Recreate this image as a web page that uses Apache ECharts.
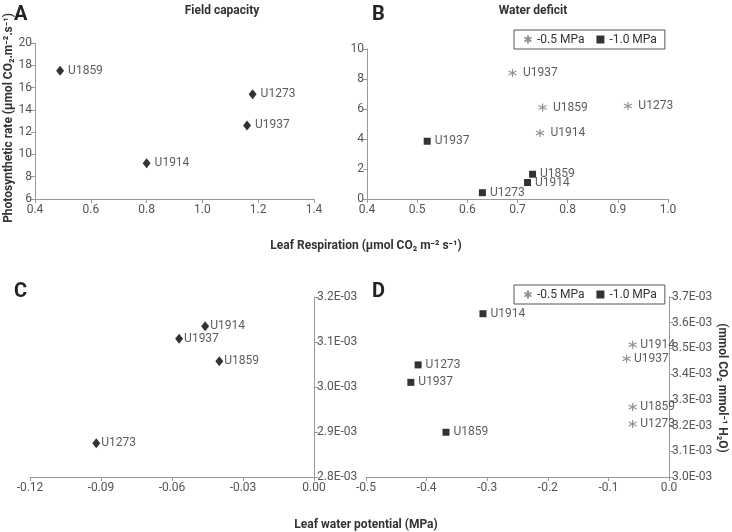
<!DOCTYPE html>
<html><head><meta charset="utf-8">
<script src="https://cdn.jsdelivr.net/npm/echarts@6/dist/echarts.min.js"></script>
<style>html,body{margin:0;padding:0;background:#fff}#c{width:732px;height:532px}</style>
</head><body><div id="c"></div>
<script>
// Panel A: Field capacity
const aNames = ['U1859','U1914','U1937','U1273'];
const aResp = [0.49, 0.80, 1.16, 1.18];
const aPhoto = [17.5, 9.2, 12.6, 15.4];
// Panel B: Water deficit
const bNames05 = ['U1937','U1859','U1273','U1914'];
const bResp05 = [0.69, 0.75, 0.92, 0.745];
const bPhoto05 = [8.4, 6.1, 6.2, 4.4];
const bNames10 = ['U1937','U1859','U1914','U1273'];
const bResp10 = [0.52, 0.73, 0.72, 0.63];
const bPhoto10 = [3.85, 1.65, 1.1, 0.42];
// Panel C: field capacity WUE vs leaf water potential
const cNames = ['U1914','U1937','U1859','U1273'];
const cPot = [-0.046, -0.057, -0.040, -0.092];
const cWue = [3.135e-3, 3.107e-3, 3.057e-3, 2.875e-3];
// Panel D
const dNames10 = ['U1914','U1273','U1937','U1859'];
const dPot10 = [-0.307, -0.414, -0.426, -0.368];
const dWue10 = [3.635e-3, 3.436e-3, 3.368e-3, 3.174e-3];
const dNames05 = ['U1914','U1937','U1859','U1273'];
const dPot05 = [-0.06, -0.07, -0.06, -0.06];
const dWue05 = [3.514e-3, 3.46e-3, 3.272e-3, 3.206e-3];

const FONT = '"Liberation Sans Narrow", "Roboto", "Liberation Sans", sans-serif';
const AST = 'path://M0,-5L0,5M-4.33,-2.5L4.33,2.5M-4.33,2.5L4.33,-2.5';

function pts(names, xs, ys){ return names.map((n,i)=>({name:n, value:[xs[i], ys[i]]})); }
function lbl(){ return {show:true, position:'right', distance:4, formatter:'{b}', color:'#333', fontSize:12, fontFamily:FONT}; }
function xAx(idx, min, max, interval, dec){
  return {type:'value', gridIndex:idx, min, max, interval, splitLine:{show:false},
    axisLine:{lineStyle:{color:'#999'}}, axisTick:{length:4, lineStyle:{color:'#999'}},
    axisLabel:{color:'#555', fontSize:12, fontFamily:FONT, margin:5, formatter:v=>v.toFixed(dec)}};
}
function yAx(idx, min, max, interval, fmt, pos){
  return {type:'value', gridIndex:idx, min, max, interval, position:pos||'left', splitLine:{show:false},
    axisLine:{show:true, lineStyle:{color:'#999'}}, axisTick:{show:true, length:4, lineStyle:{color:'#999'}},
    axisLabel:{color:'#555', fontSize:12, fontFamily:FONT, margin:3, formatter:fmt}};
}
const eFmt = v => (v*1000).toFixed(1) + 'E-03';

const chart = echarts.init(document.getElementById('c'));
const legendCommon = {
  orient:'horizontal', borderColor:'#555', borderWidth:1, padding:[3,8,3,8], itemGap:12,
  itemWidth:8, itemHeight:8, textStyle:{color:'#333', fontSize:12, fontFamily:FONT},
  data:['-0.5 MPa','-1.0 MPa']
};
chart.setOption({
  animation:false,
  grid:[
    {left:35, top:43, width:279, height:156},
    {left:367, top:49, width:301, height:150},
    {left:30, top:297, width:284, height:180},
    {left:366, top:297, width:303, height:180}
  ],
  xAxis:[ xAx(0,0.4,1.4,0.2,1), xAx(1,0.4,1.0,0.1,1), xAx(2,-0.12,0,0.03,2), xAx(3,-0.5,0,0.1,1) ],
  yAxis:[
    yAx(0,6,20,2,v=>String(v)),
    yAx(1,0,10,2,v=>String(v)),
    yAx(2,0.0028,0.0032,0.0001,eFmt,'right'),
    yAx(3,0.0030,0.0037,0.0001,eFmt,'right')
  ],
  legend:[
    Object.assign({left:514, top:30, itemGap:14}, legendCommon),
    Object.assign({left:514, top:285, itemGap:14}, legendCommon)
  ],
  series:[
    {type:'scatter', xAxisIndex:0, yAxisIndex:0, symbol:'diamond', symbolSize:[8,10],
      itemStyle:{color:'#000'}, label:lbl(), data:pts(aNames,aResp,aPhoto)},
    {type:'scatter', name:'-0.5 MPa', xAxisIndex:1, yAxisIndex:1, symbol:AST, symbolSize:8,
      itemStyle:{color:'none', borderColor:'#777', borderWidth:1.2}, label:lbl(), data:pts(bNames05,bResp05,bPhoto05)},
    {type:'scatter', name:'-1.0 MPa', xAxisIndex:1, yAxisIndex:1, symbol:'rect', symbolSize:7,
      itemStyle:{color:'#000'}, label:lbl(), data:pts(bNames10,bResp10,bPhoto10)},
    {type:'scatter', xAxisIndex:2, yAxisIndex:2, symbol:'diamond', symbolSize:[8,10],
      itemStyle:{color:'#000'}, label:Object.assign(lbl(),{distance:1}), data:pts(cNames,cPot,cWue)},
    {type:'scatter', name:'-1.0 MPa', xAxisIndex:3, yAxisIndex:3, symbol:'rect', symbolSize:7,
      itemStyle:{color:'#000'}, label:lbl(), data:pts(dNames10,dPot10,dWue10)},
    {type:'scatter', name:'-0.5 MPa', xAxisIndex:3, yAxisIndex:3, symbol:AST, symbolSize:8,
      itemStyle:{color:'none', borderColor:'#777', borderWidth:1.2}, label:Object.assign(lbl(),{distance:1}), data:pts(dNames05,dPot05,dWue05)}
  ],
  graphic:[
    {type:'text', left:14, top:5, style:{text:'A', font:'bold 20px '+FONT, fill:'#222'}},
    {type:'text', left:372, top:5, style:{text:'B', font:'bold 20px '+FONT, fill:'#222'}},
    {type:'text', left:14, top:282, style:{text:'C', font:'bold 20px '+FONT, fill:'#222'}},
    {type:'text', left:372, top:282, style:{text:'D', font:'bold 20px '+FONT, fill:'#222'}},
    {type:'text', x:222, y:11, style:{text:'Field capacity', font:'bold 12px '+FONT, fill:'#333', textAlign:'center', textVerticalAlign:'middle'}},
    {type:'text', x:533, y:11, style:{text:'Water deficit', font:'bold 12px '+FONT, fill:'#333', textAlign:'center', textVerticalAlign:'middle'}},
    {type:'text', x:366, y:246, style:{text:'Leaf Respiration (μmol CO₂ m⁻² s⁻¹)', font:'bold 12px '+FONT, fill:'#333', textAlign:'center', textVerticalAlign:'middle'}},
    {type:'text', x:366, y:525, style:{text:'Leaf water potential (MPa)', font:'bold 12px '+FONT, fill:'#333', textAlign:'center', textVerticalAlign:'middle'}},
    {type:'text', x:9, y:118, rotation:Math.PI/2, style:{text:'Photosynthetic rate (μmol CO₂.m⁻².s⁻¹)', font:'bold 12px '+FONT, fill:'#333', textAlign:'center', textVerticalAlign:'middle'}},
    {type:'text', x:722, y:388, rotation:-Math.PI/2, style:{text:'(mmol CO₂ mmol⁻¹ H₂O)', font:'bold 12px '+FONT, fill:'#333', textAlign:'center', textVerticalAlign:'middle'}}
  ]
});
</script></body></html>
